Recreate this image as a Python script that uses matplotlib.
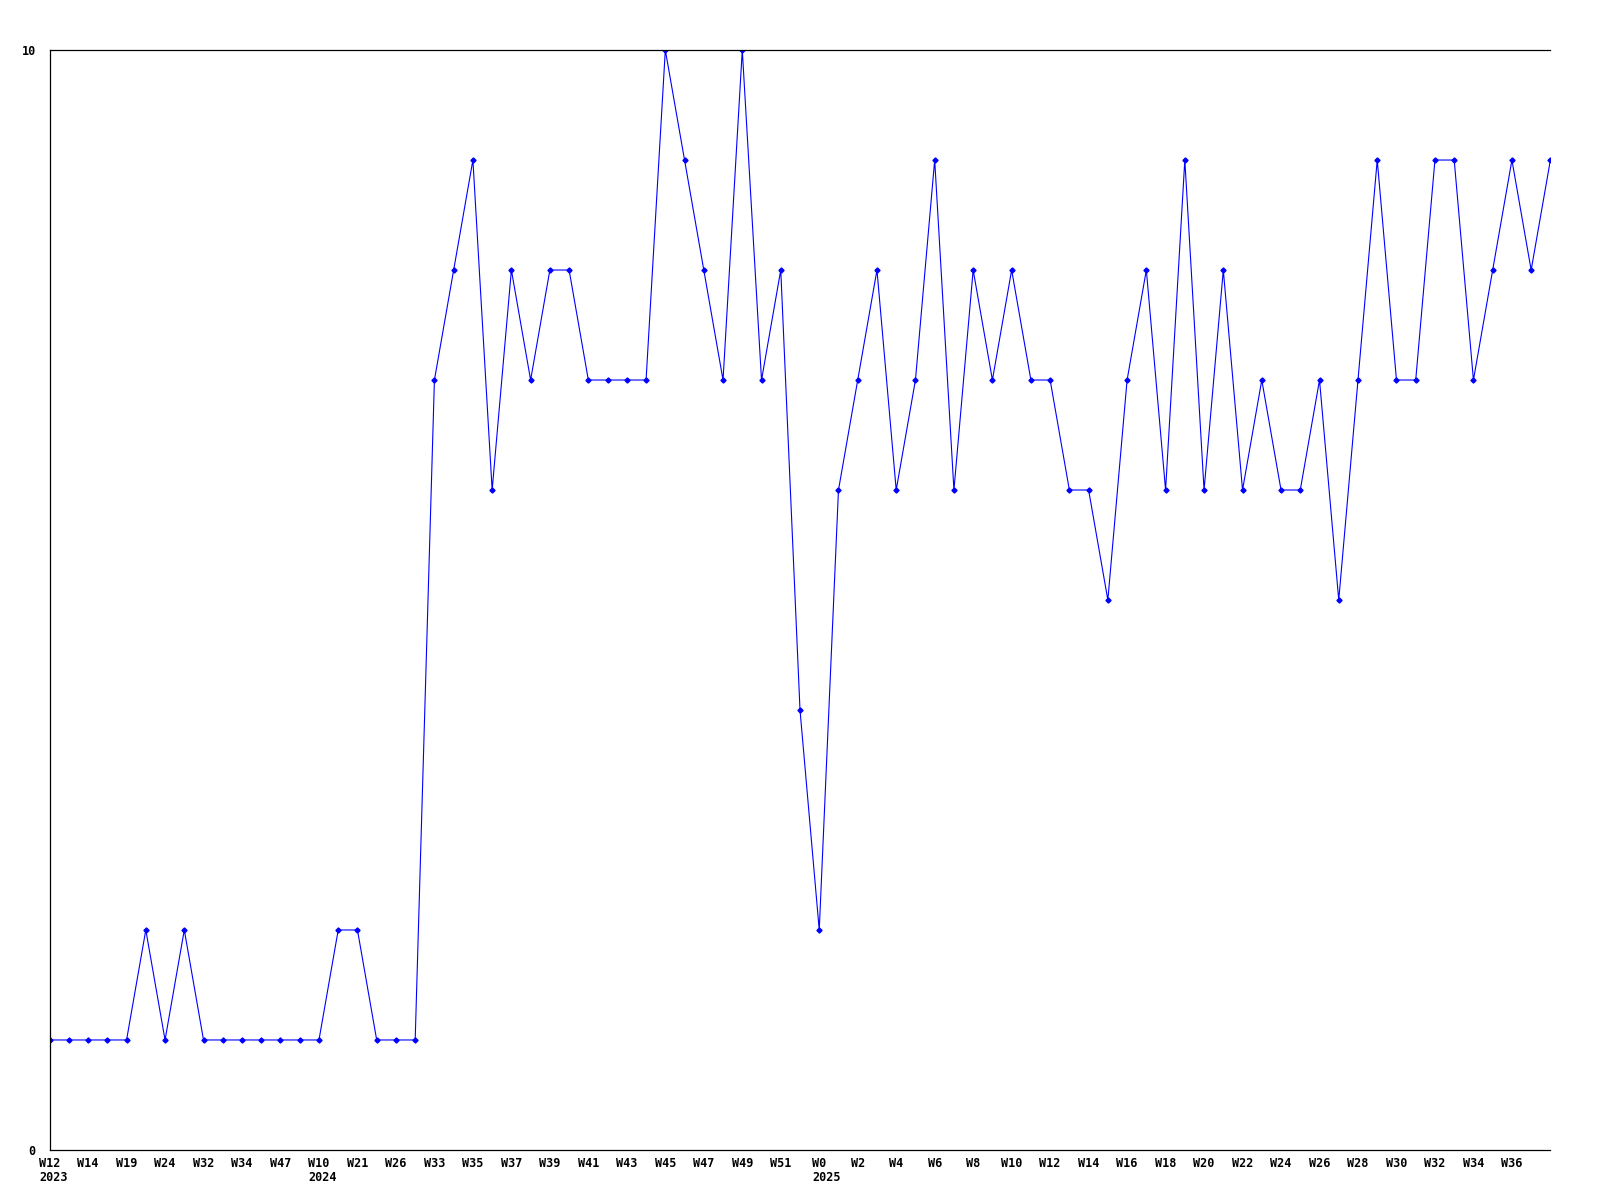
import matplotlib
matplotlib.use("Agg")
from matplotlib import pyplot as plt

# weekly values, one per point
values = [1, 1, 1, 1, 1, 2, 1, 2, 1, 1,
          1, 1, 1, 1, 1, 2, 2, 1, 1, 1,
          7, 8, 9, 6, 8, 7, 8, 8, 7, 7,
          7, 7, 10, 9, 8, 7, 10, 7, 8, 4,
          2, 6, 7, 8, 6, 7, 9, 6, 8, 7,
          8, 7, 7, 6, 6, 5, 7, 8, 6, 9,
          6, 8, 6, 7, 6, 6, 7, 5, 7, 9,
          7, 7, 9, 9, 7, 8, 9, 8, 9]

# labels shown on every other point
week_labels = ["W12", "W14", "W19", "W24", "W32", "W34", "W47", "W10",
               "W21", "W26", "W33", "W35", "W37", "W39", "W41", "W43", "W45",
               "W47", "W49", "W51", "W0", "W2", "W4", "W6", "W8", "W10",
               "W12", "W14", "W16", "W18", "W20", "W22", "W24", "W26", "W28",
               "W30", "W32", "W34", "W36"]
# year written under the label at these label positions
year_marks = {0: "2023", 7: "2024", 20: "2025"}

fsize = 8.5
font = {"family": "DejaVu Sans Mono", "weight": "bold", "size": fsize}

fig = plt.figure(figsize=(16, 12), dpi=100)
ax = fig.add_axes([0.031, 0.0417, 0.938, 0.9166])

x = list(range(len(values)))
ax.plot(x, values, color="#0000ff", linewidth=0.8, marker="D", markersize=2.6)

ax.set_xlim(0, len(values) - 1)
ax.set_ylim(0, 10)

tick_x = x[:len(week_labels) * 2:2]
ax.set_xticks(tick_x)
ax.set_xticklabels(week_labels, fontdict=font)
ax.set_yticks([0, 10])
ax.set_yticklabels(["0", "10"], fontdict=font)
ax.tick_params(length=0, pad=10)
ax.tick_params(axis="x", pad=5)

# year line, left-aligned with the week label above it (monospace char = 0.602 em)
for i, yr in year_marks.items():
    off = -len(week_labels[i]) * 0.602 * fsize / 2
    ax.annotate(yr, xy=(tick_x[i], 0), xycoords=("data", "axes fraction"),
                xytext=(off, -15), textcoords="offset points",
                ha="left", va="top", annotation_clip=False, **font)

ax.spines["right"].set_visible(False)
for s in ["left", "bottom", "top"]:
    ax.spines[s].set_linewidth(0.9)
    ax.spines[s].set_color("black")

fig.savefig("out.png", dpi=100)
